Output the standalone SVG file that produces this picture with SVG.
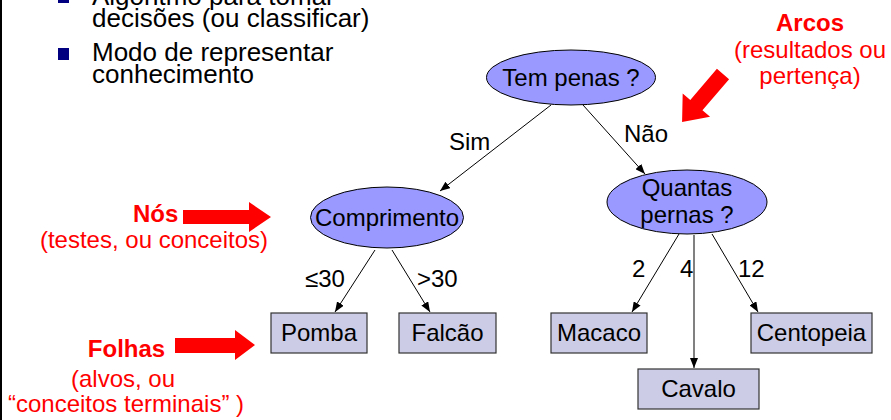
<svg xmlns="http://www.w3.org/2000/svg" width="891" height="420" viewBox="0 0 891 420">
<style>
text{font-family:"Liberation Sans",Arial,sans-serif;}
.b{font-size:26px;fill:#000;}
.t{font-size:24px;fill:#000;}
.c{text-anchor:middle;}
.r{font-size:24px;fill:#FF0000;}
.rb{font-size:24px;fill:#FF0000;font-weight:bold;}
.el{fill:#9999FF;stroke:#000;stroke-width:1;}
.lf{fill:#CCCCE6;stroke:#333;stroke-width:1.2;}
.cn{stroke:#000;stroke-width:1;fill:none;marker-end:url(#ah);}
.ra{fill:#FF0000;stroke:none;}
</style>
<defs>
<marker id="ah" markerWidth="10" markerHeight="8" refX="10" refY="4" orient="auto" markerUnits="userSpaceOnUse">
<path d="M0,0 L10,4 L0,8 z" fill="#000"/>
</marker>
</defs>
<rect x="0" y="0" width="891" height="420" fill="#FFFFFF"/>
<rect x="0" y="0" width="2" height="420" fill="#000"/>

<g id="bullets">
<rect x="58" y="-9" width="11" height="12" fill="#000080"/>
<text class="b" x="92" y="5">Algoritmo para tomar</text>
<text class="b" x="92" y="27">decisões (ou classificar)</text>
<rect x="58" y="48" width="11" height="12" fill="#000080"/>
<text class="b" x="92" y="61">Modo de representar</text>
<text class="b" x="92" y="83">conhecimento</text>
</g>

<g id="connectors">
<line class="cn" x1="551" y1="105" x2="440" y2="191"/>
<line class="cn" x1="583" y1="105" x2="645" y2="174"/>
<line class="cn" x1="375" y1="250" x2="335" y2="312"/>
<line class="cn" x1="392" y1="250" x2="430" y2="312"/>
<line class="cn" x1="679" y1="234" x2="632" y2="312"/>
<line x1="694" y1="235" x2="694" y2="360" stroke="#808080" stroke-width="2"/>
<line class="cn" x1="694" y1="358" x2="694" y2="368"/>
<line class="cn" x1="712" y1="234" x2="758" y2="312"/>
<text class="t" x="449" y="150">Sim</text>
<text class="t" x="624" y="142">Não</text>
<text class="t" x="305" y="287">≤30</text>
<text class="t" x="417" y="287">&gt;30</text>
<text class="t" x="632" y="277">2</text>
<text class="t" x="680" y="277">4</text>
<text class="t" x="738" y="277">12</text>
</g>

<g id="n-tempenas">
<ellipse class="el" cx="571" cy="77.5" rx="84.5" ry="27.5"/>
<text class="t c" x="571" y="86">Tem penas ?</text>
</g>
<g id="n-comprimento">
<ellipse class="el" cx="387" cy="217.5" rx="76.5" ry="30.5"/>
<text class="t c" x="387" y="226">Comprimento</text>
</g>
<g id="n-quantas">
<ellipse class="el" cx="687" cy="202" rx="80" ry="32"/>
<text class="t c" x="687" y="196">Quantas</text>
<text class="t c" x="687" y="223">pernas ?</text>
</g>
<g id="l-pomba">
<rect class="lf" x="271" y="313" width="96" height="40"/>
<text class="t c" x="319" y="341">Pomba</text>
</g>
<g id="l-falcao">
<rect class="lf" x="399" y="313" width="97" height="40"/>
<text class="t c" x="447.5" y="341">Falcão</text>
</g>
<g id="l-macaco">
<rect class="lf" x="551" y="313" width="96" height="40"/>
<text class="t c" x="599" y="341">Macaco</text>
</g>
<g id="l-centopeia">
<rect class="lf" x="751" y="313" width="121" height="40"/>
<text class="t c" x="811.5" y="341">Centopeia</text>
</g>
<g id="l-cavalo">
<rect class="lf" x="638" y="369" width="121" height="40"/>
<text class="t c" x="698.5" y="397">Cavalo</text>
</g>

<g id="annotations">
<text class="rb c" x="810" y="31">Arcos</text>
<text class="r c" x="810" y="58">(resultados ou</text>
<text class="r c" x="810" y="84">pertença)</text>
<polygon class="ra" points="0,-8 41,-8 41,-18 63,0 41,18 41,8 0,8" transform="translate(723,74) rotate(130.5)"/>

<text class="rb" x="133" y="222">Nós</text>
<text class="r c" x="154" y="248">(testes, ou conceitos)</text>
<polygon class="ra" points="183,210 249,210 249,202 271,217 249,232 249,224 183,224"/>

<text class="rb c" x="126.5" y="357">Folhas</text>
<text class="r c" x="123" y="387">(alvos, ou</text>
<text class="r c" x="126" y="412">“conceitos terminais” )</text>
<polygon class="ra" points="175,338 235,338 235,330 255,345 235,360 235,353 175,353"/>
</g>
</svg>
